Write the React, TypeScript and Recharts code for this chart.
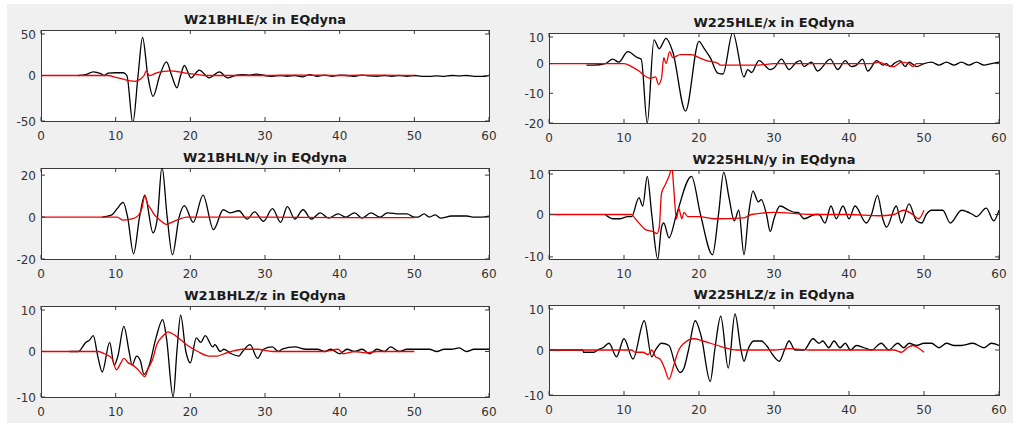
import { LineChart, Line, XAxis, YAxis } from 'recharts';

const w21eObs = [
  [5, 0], [6, 1], [7, 4], [8, 2], [8.5, 0], [9, 2.5], [10, 3], [11, 3], [11.5, 0], [12.3, -52], [13, 0],
  [13.6, 42], [14.3, 0], [15, -23], [15.9, 0], [16.8, 15], [17.5, 0], [18.2, -13.5], [18.7, 0], [19.2, 11],
  [20.1, -2.6], [21.2, 6], [22.5, -2.6], [23.9, 4], [25, -2.6], [26, 0], [27, 1], [28, 0.5], [28.8, 1.5],
  [30, 0], [31, -1], [32, 0], [33, -1], [34, 0], [35, -1.5], [36, 1], [37, -1], [38, 0.5], [39, -1],
  [40, 0.5], [41, 0], [42, -1], [43, 0.5], [44, -0.5], [45, -1], [46, 0], [47, -1], [48, 0], [49, -1],
  [50, 0], [51, -1], [52, -1], [53, -0.5], [54, -1], [55, 0], [56, -0.5], [57, 0], [58, -1], [59, -1], [60, 0],
];
const w21eSyn = [
  [0, 0], [9, 0], [10, -2], [11, -4], [12, -6], [12.6, -6.5], [13.3, -4], [13.8, 0], [14.1, 5], [14.5, 0],
  [15, 1], [15.5, 3], [16.5, 4.5], [17.3, 5], [18.5, 4], [19.5, 2.5], [21, 1], [22, 0], [30, 0], [35, 0.5],
  [40, 0], [45, 0.5], [50, 0],
];

const w225eObs = [
  [5, -0.5], [6, -0.5], [7.5, 0], [8.5, 1.5], [9.3, 0.5], [10.5, 4], [11.8, 2], [12.3, 1.5], [13.1, -20],
  [14, 8], [14.7, 5], [15.6, 8.5], [16.5, 4], [18.2, -16], [20, 7.5], [20.7, 5], [21.5, 2], [22.5, -3.2],
  [23.2, -3.5], [24.5, 10.5], [26, -4.5], [26.5, -2], [27, -3], [28, 1], [29.5, -2], [30, -1.5], [31, 1.5],
  [32, -2], [33, 0.5], [33.5, 1], [34, -1], [35, 0.5], [35.8, -2.5], [37.5, 1.5], [38.5, -2], [39.5, 1],
  [40.3, -1], [41, -0.5], [41.8, 1.5], [42.5, -2.5], [43.7, 1], [44.5, -0.5], [45, 0], [45.5, -1], [46, 0],
  [46.8, 1], [47.5, -1], [48, 0.5], [49, -1], [50, 0], [51, 0.5], [52, -0.5], [53, 0.5], [54, -0.5],
  [55, 0.5], [56, -0.5], [57, 0.5], [58, -0.5], [59, 0], [60, 0.5],
];
const w225eSyn = [
  [0, 0], [10, 0], [11, -1], [12, -2.5], [13, -4.5], [13.5, -5], [14.2, -4.5], [14.6, -7], [15, -5],
  [15.3, 2], [15.6, 0], [16.1, 4], [16.5, 2], [17.5, 3], [19, 3], [20, 2], [21, 1], [22.6, 0], [22.8, -0.5],
  [28, -0.5], [30, 0], [43, 0], [44, 0.5], [45, -0.5], [46, -1], [47, 0.5], [48, 0], [48.5, -1], [49, 0], [50, 0],
];

const w21nObs = [
  [8.2, 0], [9.5, 1], [10.2, 4], [11, 7], [11.6, 0], [12.4, -17.5], [13.2, 0], [13.9, 10.5], [15, -7.5],
  [15.6, 0], [16.2, 24], [16.9, 0], [17.6, -18], [18.5, 0], [19.2, 5.5], [20.4, -2.5], [21.7, 10.5],
  [23.1, -6], [24.4, 3.5], [25.3, 2], [26.5, 3], [27.6, -1], [28.6, 2.5], [29.8, -2], [31, 4], [32.1, -2.5],
  [33, 5], [34, -1], [35.1, 3.5], [36.2, -1], [37.4, 2], [38.5, -0.5], [39.8, 1.5], [40.8, 0], [42, 2],
  [43, -0.5], [44.2, 2], [45.4, 0], [46.4, 2], [48, 1.5], [49, 1.5], [50, 0], [50.5, 0], [51.3, 1.5],
  [52, 0], [52.8, 1], [53.5, -0.5], [55, 0.5], [57, 0.5], [58, 0], [59, 0], [60, 0.5],
];
const w21nSyn = [
  [0, 0], [10.2, 0], [11, -1.5], [12, -1], [12.8, 0], [13.5, 4], [13.9, 10], [14.3, 6], [14.6, 4.5],
  [15.2, 1], [15.8, -1], [16.8, -3.5], [17.5, -2.5], [18.5, -1], [19.5, 0], [30, 0], [40, -0.3], [50, -0.3],
];

const w225nObs = [
  [7.5, 0], [8.5, -1], [9.5, -1], [10.5, -0.5], [11, -0.5], [12, 4], [12.5, 2], [13.1, 9], [13.7, 0],
  [14.5, -10.5], [15, -3], [15.3, -2], [16, -5.5], [17, 0], [19, 9], [20.2, 0], [21.8, -9.5], [22.6, 0],
  [23.3, 10], [24, 4], [24.7, -1.5], [25.3, 1], [26, -9.5], [26.6, 0], [27.2, 5.5], [27.9, 3], [28.3, 3.5],
  [29, 0], [29.5, -4], [30, -1], [30.8, 2], [32, 1], [32.8, 0.5], [33.2, 0.5], [34, -1], [35.5, 0], [36, 0],
  [36.8, -2], [37.6, 2], [38.3, -1], [39.2, 2], [40, -1], [40.8, 2], [42.3, -2], [43, 0], [43.8, 4.5],
  [44.5, -1], [45, -3], [46.3, 2], [47, -2], [48, 2.5], [49, -1.5], [49.7, -2], [50.3, 0], [51, 1],
  [52.5, 1], [53.5, -2], [55, 1], [56.5, 0], [57, -0.5], [58.3, 1.5], [59.3, -1.5], [60, 1],
];
const w225nSyn = [
  [0, 0], [11, 0], [11.5, -1], [12, -2], [12.8, -3.5], [13.8, -4], [14.4, -4.5], [14.7, -3], [15, 5],
  [15.5, 7], [16, 9], [16.4, 11], [16.6, 7], [17, -1], [17.3, 1.5], [17.7, -1], [18, 0.5], [18.5, -0.5],
  [20, -0.5], [22, -1], [26, -0.8], [27, 0], [30, 0.5], [35, 0], [40, 0], [44, -0.3], [46, 0], [47.3, 1],
  [48.5, 0], [49.3, -1], [50, 1],
];

const w21zObs = [
  [3.8, 0], [5, 0], [6, 2], [6.5, 2.5], [7, 3.5], [7.6, -1], [8.2, -4.5], [9.2, 2], [9.8, -3], [10.3, -1],
  [11.1, 5.5], [11.8, 0], [12.2, -3], [12.8, -1], [13.3, -2], [13.8, -5], [14.5, -3], [15.4, 3], [16.3, 7],
  [16.8, 3], [17.7, -10], [18.2, 0], [18.7, 8], [19.4, 0], [20, -2.5], [20.8, 3], [21.4, 2], [22, 3.5],
  [23, 1], [23.3, 1.5], [24, 0], [24.5, 0.5], [25.5, -0.5], [26.5, -1], [27, 0], [28, 1.5], [29, -1.5],
  [29.8, 0.5], [31, 1], [31.8, 0], [32.3, 0.5], [34, 1], [35.5, 0.5], [37, 0.5], [38, 0], [38.8, 0.5],
  [40, -0.5], [41, 0.5], [42, 0], [43, 0.5], [44, -0.5], [45, 0.5], [46, 0], [46.8, 1], [48, 0], [49, 0.5],
  [50, 0.5], [52, 0.5], [53, 0], [54, 0.5], [55, 0.5], [56, 0.8], [57, 0], [58, 0.5], [60, 0.5],
];
const w21zSyn = [
  [0, 0], [7.7, 0], [8.5, -0.5], [9.5, -1.5], [10.1, -4], [10.7, -2.5], [11.1, -1.5], [11.7, -2.5],
  [12.3, -3], [13, -4], [13.9, -5.5], [14.3, -4], [15, -1.5], [15.5, 1.5], [16.4, 3.5], [17, 4.3], [18, 3.5],
  [19.5, 1.5], [21, 0], [22.5, -1], [23.6, -1], [24.5, -0.5], [25.5, 0], [27, 0.5], [29, 0.5], [31, 0],
  [33.5, 0], [38, 0], [39.8, 0.5], [40.5, -0.5], [42, 0], [43.5, -0.3], [45, 0], [50, 0],
];

const w225zObs = [
  [0, 0], [4.5, 0], [4.6, -0.5], [6, -0.5], [6.5, 0], [7.2, 0.5], [8, 1.5], [9, -1.5], [10, 2.5],
  [11.2, -2], [12.7, 6.5], [13.7, -1.5], [14.2, 0], [15, 1.5], [16, 1], [16.8, -3], [17.5, -5], [18, -4],
  [18.6, 0], [19.5, 6.5], [20.3, 3], [21.5, -7], [22.1, 0], [22.9, 7.5], [23.9, -4], [24.8, 8], [25.6, 0],
  [26, -2.5], [26.5, 0], [27.3, 2], [28.3, 2], [29, 1], [29.8, -1], [30.7, -2.5], [31.4, 0], [32, 2],
  [32.8, 0], [34, 0], [35.2, 2.5], [36, 1.5], [36.5, 2], [37.3, 0.5], [38, 2], [38.8, 0.5], [39.5, 1.5],
  [40.2, 0], [41, 1], [42, 0.5], [43, 0], [44.3, 1.5], [45.3, 0], [46.5, 1.5], [47.3, 0.5], [48, 1.5],
  [49, 1], [50, 1.5], [51, 1.5], [52, 0.5], [53, 1.5], [54, 1], [55, 1], [56.5, 1.5], [58, 0.5], [59, 1.5], [60, 1],
];
const w225zSyn = [
  [0, 0], [11, 0], [11.5, -0.5], [12.5, -0.5], [13.2, -1], [13.7, 0], [14.2, -1.5], [14.8, -2], [15.4, -4],
  [16, -6.5], [16.7, -3], [17.3, 0], [18, 1.5], [19.3, 2.5], [20.5, 2], [21.5, 1.5], [22.5, 1], [23.5, 0.5],
  [25, 0], [30, 0], [32, 0.3], [35, 0], [42, 0], [46, 0], [47, -0.5], [47.8, 0.5], [48.5, 1], [49.2, 0.5], [50, -0.5],
];

const xTicks = [0, 10, 20, 30, 40, 50, 60];
const yTicks50 = [-50, 0, 50];
const yTicks20 = [-20, 0, 20];
const yTicks10 = [-20, -10, 0, 10];
const yTicksPm10 = [-10, 0, 10];

const AXIS = '#3a3a3a';
const toPts = (arr: number[][]) => arr.map(([t, v]) => ({ t, v }));

const panels = [
  { title: 'W21BHLE/x in EQdyna', obs: w21eObs, syn: w21eSyn, dom: [-50, 50], ticks: yTicks50, box: [41, 30, 489, 121] },
  { title: 'W225HLE/x in EQdyna', obs: w225eObs, syn: w225eSyn, dom: [-20, 10.3], ticks: yTicks10, box: [549, 33, 999, 123] },
  { title: 'W21BHLN/y in EQdyna', obs: w21nObs, syn: w21nSyn, dom: [-20, 23.4], ticks: yTicks20, box: [41, 168, 489, 259] },
  { title: 'W225HLN/y in EQdyna', obs: w225nObs, syn: w225nSyn, dom: [-10.5, 10.5], ticks: yTicksPm10, box: [549, 170, 999, 259] },
  { title: 'W21BHLZ/z in EQdyna', obs: w21zObs, syn: w21zSyn, dom: [-10, 10], ticks: yTicksPm10, box: [41, 306, 489, 397] },
  { title: 'W225HLZ/z in EQdyna', obs: w225zObs, syn: w225zSyn, dom: [-10, 10], ticks: yTicksPm10, box: [549, 305, 999, 395] },
];

const labelStyle = { fontFamily: 'DejaVu Sans', fontSize: 12, fill: '#333' };

function Panel({ p }: { p: (typeof panels)[number] }) {
  const [l, t, r, b] = p.box;
  const w = r - l;
  const h = b - t;

  const xTick = (props: any) => {
    const { x, y, payload } = props;
    return (
      <g>
        <line x1={x} x2={x} y1={y} y2={y - 4} stroke={AXIS} />
        <line x1={x} x2={x} y1={y - h} y2={y - h + 4} stroke={AXIS} />
        <text x={x} y={y + 19} textAnchor="middle" {...labelStyle}>{payload.value}</text>
      </g>
    );
  };
  const yTick = (props: any) => {
    const { x, y, payload } = props;
    return (
      <g>
        <line x1={x} x2={x + 4} y1={y} y2={y} stroke={AXIS} />
        <line x1={x + w - 4} x2={x + w} y1={y} y2={y} stroke={AXIS} />
        <text x={x - 5} y={y + 4.5} textAnchor="end" {...labelStyle}>{payload.value}</text>
      </g>
    );
  };

  return (
    <>
      <div
        style={{
          position: 'absolute', left: l, top: t - 18, width: w, lineHeight: '16px', textAlign: 'center',
          fontFamily: 'DejaVu Sans', fontWeight: 'bold', fontSize: 13, color: '#1a1a1a',
        }}
      >
        {p.title}
      </div>
      {/* white axes face with the box outline */}
      <div
        style={{
          position: 'absolute', left: l, top: t, width: w + 1, height: h + 1, boxSizing: 'border-box',
          background: '#fff', border: `1px solid ${AXIS}`,
        }}
      />
      <div style={{ position: 'absolute', left: l - 45, top: t - 5 }}>
        <LineChart width={w + 55} height={h + 30} margin={{ top: 5, right: 10, bottom: 0, left: 0 }}>
          <XAxis xAxisId="b" dataKey="t" type="number" domain={[0, 60]} ticks={xTicks} height={25}
            tickSize={0} tickMargin={0} tickLine={false} axisLine={false} tick={xTick} allowDataOverflow />
          <YAxis yAxisId="l" type="number" domain={p.dom} ticks={p.ticks} width={45}
            tickSize={0} tickMargin={0} tickLine={false} axisLine={false} tick={yTick} allowDataOverflow />
          <Line data={toPts(p.obs)} dataKey="v" xAxisId="b" yAxisId="l" type="monotone" stroke="#000"
            strokeWidth={1.3} dot={false} isAnimationActive={false} />
          <Line data={toPts(p.syn)} dataKey="v" xAxisId="b" yAxisId="l" type="monotone" stroke="#ee0000"
            strokeWidth={1.3} dot={false} isAnimationActive={false} />
        </LineChart>
      </div>
    </>
  );
}

export default function App() {
  return (
    <div style={{ position: 'absolute', left: 0, top: 0, width: 1019, height: 427, background: '#fff' }}>
      <div style={{ position: 'absolute', left: 7, top: 4, width: 1006, height: 419, background: '#f0f0f0' }} />
      {panels.map((p) => (
        <Panel key={p.title} p={p} />
      ))}
    </div>
  );
}
